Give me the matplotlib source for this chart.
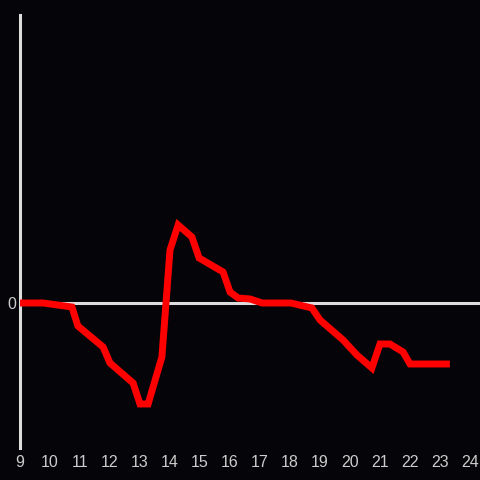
import matplotlib
matplotlib.use("Agg")
import matplotlib.pyplot as plt

hours = [9.0, 9.77, 10.73, 10.93, 11.77, 12.0, 12.77, 13.0, 13.27, 13.73, 14.0,
         14.27, 14.73, 14.97, 15.77, 16.0, 16.27, 16.67, 17.07, 18.03, 18.73,
         19.0, 19.77, 20.23, 20.73, 21.0, 21.33, 21.77, 22.0, 23.33]
values = [0.0, 0.0, -0.4, -2.3, -4.4, -6.0, -8.0, -10.1, -10.1, -5.4, 5.3,
          7.8, 6.6, 4.5, 3.1, 1.1, 0.5, 0.4, 0.0, 0.0, -0.5,
          -1.7, -3.7, -5.2, -6.5, -4.1, -4.1, -4.9, -6.1, -6.1]
xticks = list(range(9, 25))
yticks = [0]

plt.rcParams["font.family"] = ["Liberation Sans", "DejaVu Sans"]
bg = "#050408"
fig = plt.figure(figsize=(4.8, 4.8), dpi=100, facecolor=bg)
ax = fig.add_axes([20/480, 32/480, 460/480, 433/480], facecolor=bg)
ax.axhline(0, color="#dddddd", lw=2.2, zorder=1)
ax.plot(hours, values, color="#ff0000", lw=5, solid_joinstyle="miter",
        solid_capstyle="butt", zorder=3)
ax.set_xlim(9, 9 + 460/30)
ax.set_ylim(-14.5, 28.8)
for s in ["top", "right", "bottom"]:
    ax.spines[s].set_visible(False)
ax.spines["left"].set_color("#dddddd")
ax.spines["left"].set_linewidth(2.2)
ax.set_xticks(xticks)
ax.set_xticklabels([str(t) for t in xticks])
ax.set_yticks(yticks)
ax.set_yticklabels([str(t) for t in yticks])
ax.tick_params(length=0, colors="#cccccc", labelsize=11.5, pad=5)
ax.tick_params(axis="y", pad=3)
fig.savefig("out.png", dpi=100, facecolor=bg)
